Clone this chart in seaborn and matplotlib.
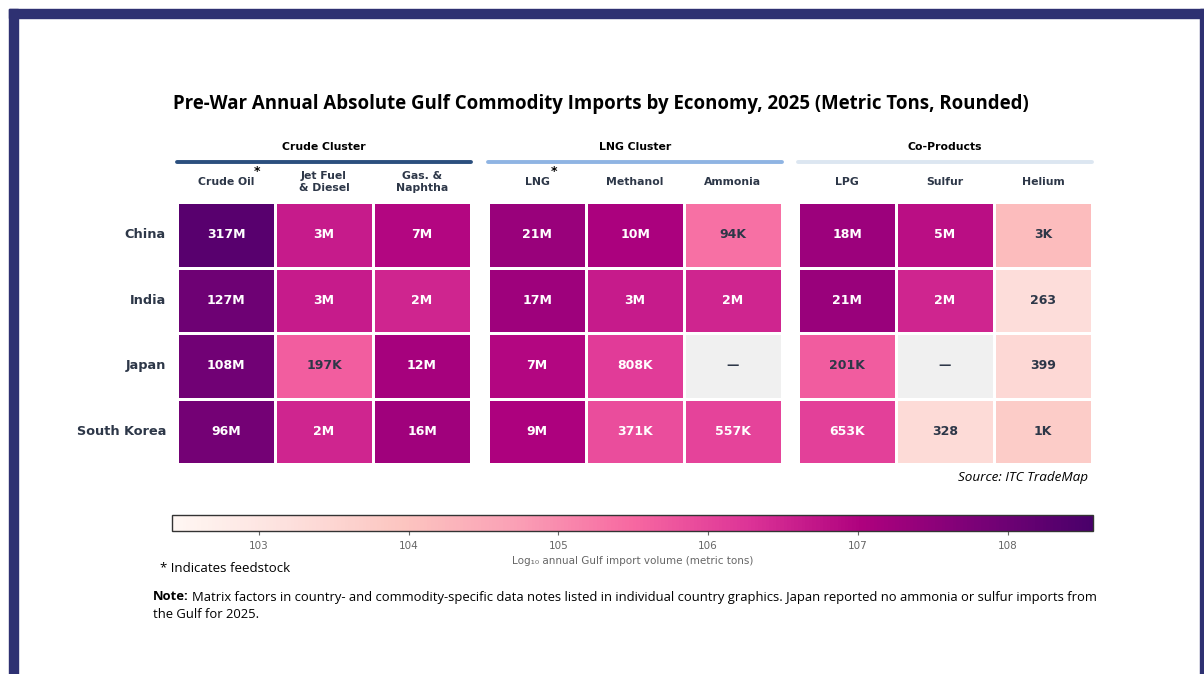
import numpy as np
import pandas as pd
import matplotlib
matplotlib.use("Agg")
import matplotlib.pyplot as plt
import seaborn as sns
from matplotlib.colors import Normalize, ListedColormap
from matplotlib.cm import ScalarMappable
from matplotlib.patches import Rectangle

# данные
countries = ["China", "India", "Japan", "South Korea"]

crude_cols = ["Crude Oil", "Jet Fuel\n& Diesel", "Gas. &\nNaphtha"]
crude_vals = [[317e6, 3e6, 7e6],
              [127e6, 3e6, 2e6],
              [108e6, 197e3, 12e6],
              [96e6, 2e6, 16e6]]
crude_labels = [["317M", "3M", "7M"],
                ["127M", "3M", "2M"],
                ["108M", "197K", "12M"],
                ["96M", "2M", "16M"]]

lng_cols = ["LNG", "Methanol", "Ammonia"]
lng_vals = [[21e6, 10e6, 94e3],
            [17e6, 3e6, 2e6],
            [7e6, 808e3, np.nan],
            [9e6, 371e3, 557e3]]
lng_labels = [["21M", "10M", "94K"],
              ["17M", "3M", "2M"],
              ["7M", "808K", "—"],
              ["9M", "371K", "557K"]]

co_cols = ["LPG", "Sulfur", "Helium"]
co_vals = [[18e6, 5e6, 3e3],
           [21e6, 2e6, 263],
           [201e3, np.nan, 399],
           [653e3, 328, 1e3]]
co_labels = [["18M", "5M", "3K"],
             ["21M", "2M", "263"],
             ["201K", "—", "399"],
             ["653K", "328", "1K"]]

groups = ["Crude Cluster", "LNG Cluster", "Co-Products"]
group_colors = ["#2b4f7e", "#8fb4e3", "#dce6f1"]
feedstock = ["Crude Oil", "LNG"]

cbar_ticks = [3, 4, 5, 6, 7, 8]
cbar_ticklabels = ["103", "104", "105", "106", "107", "108"]

# шкала ячеек и шкала колорбара в оригинале разные
CELL_VMIN, CELL_VMAX = 1.4, 8.8
CB_VMIN, CB_VMAX = 2.42, 8.57
TXT = "#2d3748"
NAVY = "#2e3172"

sns.set_theme(style="white")
plt.rcParams["font.family"] = ["DejaVu Sans"]

fig = plt.figure(figsize=(12.04, 6.74), dpi=100)
fig.patch.set_facecolor("white")

# рамка слайда
fig.patches.append(Rectangle((9 / 1204, 0), 9 / 1204, 1 - 9 / 674, transform=fig.transFigure,
                             color=NAVY, zorder=0))
fig.patches.append(Rectangle((9 / 1204, 1 - 18 / 674), 1200 / 1204, 9 / 674,
                             transform=fig.transFigure, color=NAVY, zorder=0))
fig.patches.append(Rectangle((1200 / 1204, 0), 4 / 1204, 1 - 9 / 674, transform=fig.transFigure,
                             color=NAVY, zorder=0))

cmap = plt.get_cmap("RdPu")

blocks = [(crude_cols, crude_vals, crude_labels, 177),
          (lng_cols, lng_vals, lng_labels, 488),
          (co_cols, co_vals, co_labels, 798)]

for k, (cols, vals, labels, x0) in enumerate(blocks):
    left = x0 / 1204
    width = 294 / 1204
    ax = fig.add_axes([left, 1 - 464 / 674, width, 262 / 674])
    df = pd.DataFrame(vals, index=countries, columns=cols)
    logdf = np.log10(df)
    missing = df.isna()
    # пустые ячейки серым
    sns.heatmap(missing.astype(float), mask=~missing, cmap=ListedColormap(["#f0f0f0"]),
                cbar=False, linewidths=2, linecolor="white", ax=ax)
    sns.heatmap(logdf, cmap=cmap, vmin=CELL_VMIN, vmax=CELL_VMAX, cbar=False,
                linewidths=2, linecolor="white", ax=ax)
    for i in range(len(countries)):
        for j in range(len(cols)):
            v = logdf.iloc[i, j]
            if np.isnan(v):
                c = TXT
            else:
                c = "white" if v > 5.45 else TXT
            ax.text(j + 0.5, i + 0.5, labels[i][j], ha="center", va="center",
                    fontsize=9, fontweight="bold", color=c)
    ax.set_xticks([])
    ax.set_xlabel("")
    ax.set_ylabel("")
    if k == 0:
        ax.set_yticks(np.arange(len(countries)) + 0.5)
        ax.set_yticklabels(countries, rotation=0, fontsize=9.3, fontweight="bold", color=TXT)
        ax.tick_params(axis="y", length=0, pad=8)
    else:
        ax.set_yticks([])

    # заголовки колонок
    for j, name in enumerate(cols):
        cx = left + width * (j + 0.5) / 3
        fig.text(cx, 1 - 182 / 674, name, ha="center", va="center", fontsize=7.8,
                 fontweight="bold", color=TXT, linespacing=1.35)
        if name in feedstock:
            off = 0.026 if name == "Crude Oil" else 0.014
            fig.text(cx + off, 1 - 172 / 674, "*", ha="center", va="center",
                     fontsize=9, fontweight="bold", color="black")

    fig.add_artist(plt.Line2D([left, left + width], [1 - 162 / 674] * 2,
                              color=group_colors[k], lw=2.8, transform=fig.transFigure))
    fig.text(left + width / 2, 1 - 147 / 674, groups[k], ha="center", va="center",
             fontsize=7.8, fontweight="bold", color="black")

fig.text(601 / 1204, 1 - 104 / 674,
         "Pre-War Annual Absolute Gulf Commodity Imports by Economy, 2025 (Metric Tons, Rounded)",
         ha="center", va="center", fontsize=13.4, fontweight="bold", color="black",
         family=["Open Sans", "DejaVu Sans"])

fig.text(1088 / 1204, 1 - 477 / 674, "Source: ITC TradeMap", ha="right", va="center",
         fontsize=9.7, style="italic", color="black", family=["Open Sans", "DejaVu Sans"])

# шкала
cax = fig.add_axes([172 / 1204, 1 - 531 / 674, 921 / 1204, 16 / 674])
sm = ScalarMappable(norm=Normalize(CB_VMIN, CB_VMAX), cmap=cmap)
cb = fig.colorbar(sm, cax=cax, orientation="horizontal")
cb.set_ticks(cbar_ticks)
cb.set_ticklabels(cbar_ticklabels)
cb.outline.set_edgecolor("#333333")
cb.outline.set_linewidth(1)
cax.tick_params(labelsize=7.5, colors="#666666", length=3, width=0.8, pad=4)
cb.set_label("Log₁₀ annual Gulf import volume (metric tons)", fontsize=7.5, color="#666666",
             labelpad=4)

fig.text(160 / 1204, 1 - 568 / 674, "* Indicates feedstock", ha="left", va="center",
         fontsize=9.5, color="black", family=["Open Sans", "DejaVu Sans"])

# примечание: жирное "Note:" и обычный текст после него
note_font = ["Open Sans", "DejaVu Sans"]
t_note = fig.text(153 / 1204, 1 - 597 / 674, "Note:", ha="left", va="center",
                  fontsize=9.35, fontweight="bold", color="black", family=note_font)
renderer = fig.canvas.get_renderer()
bb = t_note.get_window_extent(renderer=renderer)
fig.text(bb.x1 / fig.bbox.width + 3 / 1204, 1 - 597 / 674,
         "Matrix factors in country- and commodity-specific data notes listed in "
         "individual country graphics. Japan reported no ammonia or sulfur imports from",
         ha="left", va="center", fontsize=9.35, color="black", family=note_font)
fig.text(153 / 1204, 1 - 615 / 674, "the Gulf for 2025.", ha="left", va="center",
         fontsize=9.35, color="black", family=note_font)

fig.savefig("out.png", dpi=100)
plt.close()
